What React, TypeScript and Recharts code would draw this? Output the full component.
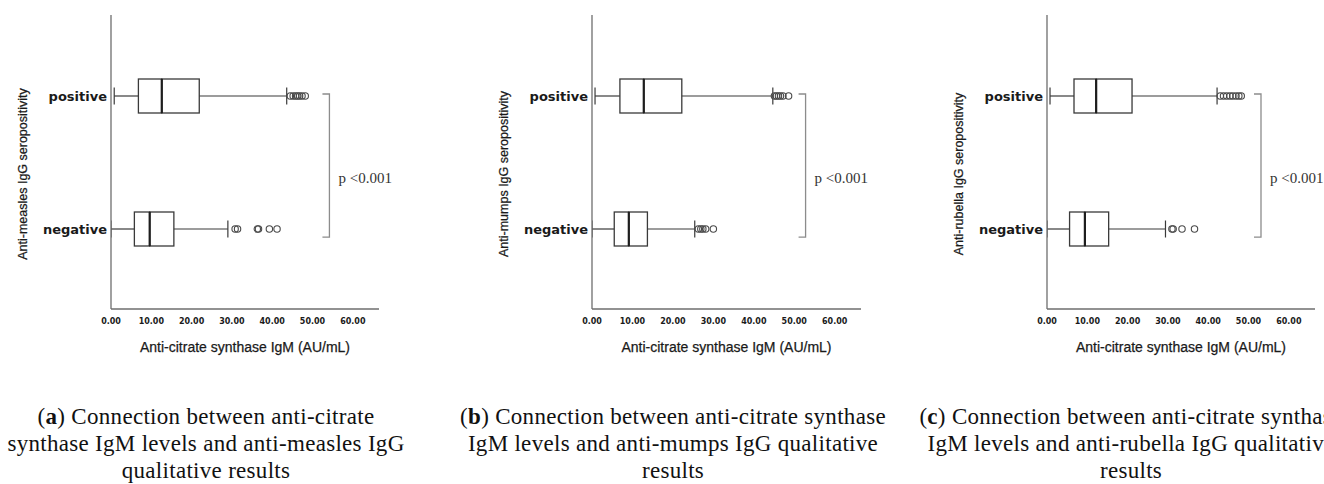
import React from 'react';
import { ComposedChart, Bar, XAxis, YAxis, ReferenceLine } from 'recharts';

// ---------- data ----------
const GROUPS = ['positive', 'negative'];
const X_TICKS = [0, 10, 20, 30, 40, 50, 60];
const X_DOMAIN_MAX = 66.5;

// (a) measles  [positive, negative]
const measlesMin = [0.8, 0.0];
const measlesQ1 = [6.8, 5.8];
const measlesMedian = [12.6, 9.6];
const measlesQ3 = [21.9, 15.6];
const measlesMax = [43.6, 29.0];
const measlesOutliers = [
  [44.5, 45.2, 45.8, 46.3, 46.8, 47.4, 48.2],
  [30.8, 31.4, 36.3, 36.6, 39.3, 41.2],
];

// (b) mumps
const mumpsMin = [0.75, 0.0];
const mumpsQ1 = [6.9, 5.5];
const mumpsMedian = [12.8, 9.1];
const mumpsQ3 = [22.2, 13.7];
const mumpsMax = [44.7, 25.4];
const mumpsOutliers = [
  [45.1, 45.6, 46.1, 46.6, 47.2, 48.6],
  [26.3, 26.9, 27.4, 28.1, 30.0],
];

// (c) rubella
const rubellaMin = [0.75, 0.0];
const rubellaQ1 = [6.7, 5.6];
const rubellaMedian = [12.2, 9.4];
const rubellaQ3 = [21.1, 15.3];
const rubellaMax = [42.2, 29.4];
const rubellaOutliers = [
  [43.0, 43.8, 44.6, 45.4, 46.1, 46.9, 47.6, 48.2],
  [31.0, 31.3, 33.5, 36.6],
];

const P_LABEL = 'p <0.001';
const X_TITLE = 'Anti-citrate synthase IgM (AU/mL)';

// ---------- styles ----------
const AXIS = '#6e6e6e';
const BOX = '#3a3a3a';
const MED = '#1e1e1e';
const OUT = '#4a4a4a';
const BRACKET = '#8c8c8c';
const CAP = 8.5;
const MAX_OUT = 8;
const O_KEYS = Array.from({ length: MAX_OUT }, (_, i) => 'o' + i);

function buildRows(mn: number[], q1: number[], med: number[], q3: number[], mx: number[], outs: number[][]) {
  return GROUPS.map((g, i) => {
    const row: any = {
      group: g,
      base: mn[i],
      wl: q1[i] - mn[i],
      bl: med[i] - q1[i],
      br: q3[i] - med[i],
      wr: mx[i] - q3[i],
    };
    let prev = mx[i];
    for (let k = 0; k < MAX_OUT; k++) {
      const v = outs[i][k];
      if (v !== undefined) {
        row['o' + k] = v - prev;
        row['h' + k] = true;
        prev = v;
      } else {
        row['o' + k] = 0;
        row['h' + k] = false;
      }
    }
    return row;
  });
}

const cyOf = (p: any) => p.y + p.height / 2;

const Empty = () => <g />;

const WhiskerLow = (p: any) => {
  const cy = cyOf(p);
  return (
    <g>
      <line x1={p.x} x2={p.x + p.width} y1={cy} y2={cy} stroke={BOX} strokeWidth={1.2} />
      <line x1={p.x} x2={p.x} y1={cy - CAP} y2={cy + CAP} stroke={BOX} strokeWidth={1.2} />
    </g>
  );
};

const WhiskerHigh = (p: any) => {
  const cy = cyOf(p);
  const xe = p.x + p.width;
  return (
    <g>
      <line x1={p.x} x2={xe} y1={cy} y2={cy} stroke={BOX} strokeWidth={1.2} />
      <line x1={xe} x2={xe} y1={cy - CAP} y2={cy + CAP} stroke={BOX} strokeWidth={1.2} />
    </g>
  );
};

const BoxLeft = (p: any) => (
  <rect x={p.x} y={p.y} width={p.width} height={p.height} fill="#fff" stroke={BOX} strokeWidth={1.3} />
);

const BoxRight = (p: any) => (
  <g>
    <rect x={p.x} y={p.y} width={p.width} height={p.height} fill="#fff" stroke={BOX} strokeWidth={1.3} />
    <line x1={p.x} x2={p.x} y1={p.y} y2={p.y + p.height} stroke={MED} strokeWidth={2.2} />
  </g>
);

const makeOutlier = (k: number) => (p: any) => {
  if (!p.payload || !p.payload['h' + k]) return <g />;
  return <circle cx={p.x + p.width} cy={cyOf(p)} r={3.2} fill="none" stroke={OUT} strokeWidth={1.1} />;
};

const Bracket = (p: any) => {
  const x = p.x1;
  const y1 = Math.min(p.y1, p.y2);
  const y2 = Math.max(p.y1, p.y2);
  return (
    <g>
      <path
        d={`M${x - 7},${y1 - 1.5} H${x} V${y2 + 8.7} H${x - 7}`}
        fill="none"
        stroke={BRACKET}
        strokeWidth={1.3}
      />
      <text
        x={x + 9}
        y={(y1 + y2) / 2 + 21}
        fontFamily="'Liberation Serif', serif"
        fontSize={15}
        fill="#333"
      >
        {P_LABEL}
      </text>
    </g>
  );
};

const YTick = (p: any) => (
  <text
    x={p.x - 4}
    y={p.y + 5}
    textAnchor="end"
    fontFamily="'DejaVu Sans', sans-serif"
    fontWeight="bold"
    fontSize={13}
    fill="#1a1a1a"
  >
    {p.payload.value}
  </text>
);

const XTick = (p: any) => (
  <text
    x={p.x}
    y={p.y + 15}
    textAnchor="middle"
    fontFamily="'DejaVu Sans', sans-serif"
    fontWeight="bold"
    fontSize={8}
    fill="#1a1a1a"
  >
    {Number(p.payload.value).toFixed(2)}
  </text>
);

const makeYTitle = (text: string) => (props: any) => {
  const vb = props.viewBox || {};
  const cx = vb.x + vb.width - 88;
  const cy = vb.y + vb.height / 2 + 12;
  return (
    <text
      x={cx}
      y={cy}
      transform={`rotate(-90, ${cx}, ${cy})`}
      textAnchor="middle"
      dominantBaseline="central"
      fontFamily="'Liberation Sans', Arial, sans-serif"
      fontSize={12.5}
      fill="#1a1a1a"
      stroke="#1a1a1a"
      strokeWidth={0.25}
    >
      {text}
    </text>
  );
};

const XTitle = (props: any) => {
  const vb = props.viewBox || {};
  return (
    <text
      x={vb.x + vb.width / 2}
      y={vb.y + 42.5}
      textAnchor="middle"
      fontFamily="'Liberation Sans', Arial, sans-serif"
      fontSize={14}
      fill="#1a1a1a"
      stroke="#1a1a1a"
      strokeWidth={0.25}
    >
      {X_TITLE}
    </text>
  );
};

type PanelProps = {
  left: number;
  width: number;
  yAxisWidth: number;
  marginRight: number;
  rows: any[];
  yTitle: string;
  bracketX: number;
};

const Panel = ({ left, width, yAxisWidth, marginRight, rows, yTitle, bracketX }: PanelProps) => (
  <div style={{ position: 'absolute', left, top: 0 }}>
    <ComposedChart
      width={width}
      height={360}
      data={rows}
      layout="vertical"
      margin={{ top: 15, right: marginRight, bottom: 0, left: 0 }}
    >
      <XAxis
        type="number"
        domain={[0, X_DOMAIN_MAX]}
        ticks={X_TICKS}
        allowDataOverflow
        height={51}
        tickLine={false}
        tickSize={0}
        tickMargin={0}
        axisLine={{ stroke: AXIS, strokeWidth: 1.3 }}
        tick={<XTick />}
        label={{ content: XTitle }}
      />
      <YAxis
        type="category"
        dataKey="group"
        width={yAxisWidth}
        padding={{ top: 14, bottom: 14 }}
        tickLine={false}
        tickSize={0}
        tickMargin={0}
        axisLine={{ stroke: AXIS, strokeWidth: 1.3 }}
        tick={<YTick />}
        label={{ content: makeYTitle(yTitle) }}
      />
      <Bar dataKey="base" stackId="s" barSize={34} isAnimationActive={false} shape={Empty} />
      <Bar dataKey="wl" stackId="s" barSize={34} isAnimationActive={false} shape={WhiskerLow} />
      <Bar dataKey="bl" stackId="s" barSize={34} isAnimationActive={false} shape={BoxLeft} />
      <Bar dataKey="br" stackId="s" barSize={34} isAnimationActive={false} shape={BoxRight} />
      <Bar dataKey="wr" stackId="s" barSize={34} isAnimationActive={false} shape={WhiskerHigh} />
      {O_KEYS.map((k, i) => (
        <Bar key={k} dataKey={k} stackId="s" barSize={34} isAnimationActive={false} shape={makeOutlier(i)} />
      ))}
      <ReferenceLine
        segment={[
          { x: bracketX, y: 'positive' },
          { x: bracketX, y: 'negative' },
        ]}
        ifOverflow="visible"
        shape={Bracket}
      />
    </ComposedChart>
  </div>
);

const captionStyle: React.CSSProperties = {
  position: 'absolute',
  top: 403,
  width: 600,
  textAlign: 'center',
  fontFamily: "'Liberation Serif', serif",
  fontSize: 23,
  letterSpacing: '0.3px',
  lineHeight: '27px',
  color: '#111',
  whiteSpace: 'nowrap',
};

const Caption = ({ center, letter, lines }: { center: number; letter: string; lines: string[] }) => (
  <div style={{ ...captionStyle, left: center - 300 }}>
    (<b>{letter}</b>){lines[0]}
    <br />
    {lines[1]}
    <br />
    {lines[2]}
  </div>
);

export default function App() {
  const rowsA = buildRows(measlesMin, measlesQ1, measlesMedian, measlesQ3, measlesMax, measlesOutliers);
  const rowsB = buildRows(mumpsMin, mumpsQ1, mumpsMedian, mumpsQ3, mumpsMax, mumpsOutliers);
  const rowsC = buildRows(rubellaMin, rubellaQ1, rubellaMedian, rubellaQ3, rubellaMax, rubellaOutliers);
  return (
    <div
      style={{
        position: 'absolute',
        left: 0,
        top: 0,
        width: 1324,
        height: 484,
        overflow: 'hidden',
        background: '#fff',
      }}
    >
      <Panel left={0} width={440} yAxisWidth={111} marginRight={61} rows={rowsA}
        yTitle="Anti-measles IgG seropositivity" bracketX={54.2} />
      <Panel left={440} width={440} yAxisWidth={152} marginRight={19} rows={rowsB}
        yTitle="Anti-mumps IgG seropositivity" bracketX={52.8} />
      <Panel left={880} width={444} yAxisWidth={167} marginRight={9} rows={rowsC}
        yTitle="Anti-rubella IgG seropositivity" bracketX={53.1} />
      <Caption center={206} letter="a" lines={[' Connection between anti-citrate', 'synthase IgM levels and anti-measles IgG', 'qualitative results']} />
      <Caption center={673} letter="b" lines={[' Connection between anti-citrate synthase', 'IgM levels and anti-mumps IgG qualitative', 'results']} />
      <Caption center={1131} letter="c" lines={[' Connection between anti-citrate synthase', 'IgM levels and anti-rubella IgG qualitative', 'results']} />
    </div>
  );
}
